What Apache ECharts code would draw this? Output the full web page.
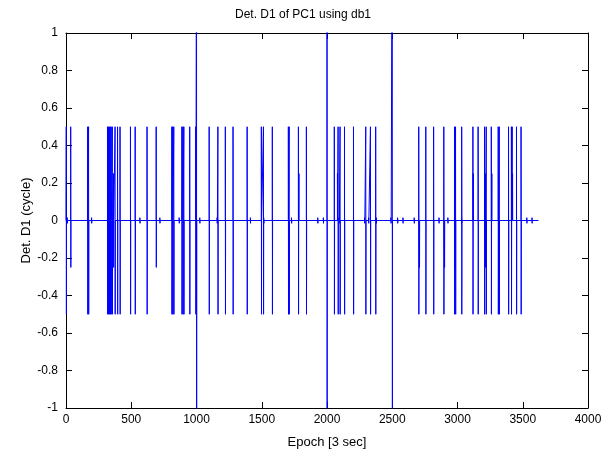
<!DOCTYPE html>
<html>
<head>
<meta charset="utf-8">
<script src="https://cdn.jsdelivr.net/npm/echarts@6/dist/echarts.min.js"></script>
<style>
  html, body { margin: 0; padding: 0; background: #fff; }
  #chart { width: 606px; height: 452px; }
</style>
</head>
<body>
<div id="chart"></div>
<script>
// slips in the D1 detail: epoch, upper peak, lower peak (cycles)
const slipEpochs = [2, 36, 166, 173, 318, 325, 332, 339, 346, 355, 364, 376, 395, 414, 494, 530,
  621, 691, 811, 818, 826, 888, 896, 903, 948, 994, 1000, 1097, 1164, 1221, 1280, 1388, 1497, 1513,
  1581, 1704, 1710, 1781, 1785, 1842, 2000, 2056, 2080, 2085, 2100, 2134, 2203, 2297, 2333, 2373,
  2500, 2703, 2708, 2757, 2817, 2895, 2900, 2977, 2981, 2985, 3032, 3118, 3121, 3158, 3207, 3214,
  3220, 3259, 3263, 3312, 3315, 3320, 3391, 3413, 3419, 3422, 3452, 3487]
const slipHigh = [0.5, 0.5, 0.5, 0.5, 0.5, 0.5, 0.5, 0.5, 0.5, 0.5, 0.25, 0.5, 0.5, 0.5, 0.5, 0.5,
  0.5, 0.5, 0.5, 0.5, 0.5, 0.5, 0.5, 0.5, 0.5, 0.5, 2, 0.5, 0.5, 0.5, 0.5, 0.5, 0.5, 0.5,
  0.5, 0.5, 0.5, 0.5, 0.25, 0.5, 2, 0.5, 0.25, 0.5, 0.5, 0.5, 0.5, 0.5, 0.5, 0.5,
  2, 0.5, 0, 0.5, 0.5, 0.5, 0, 0.5, 0, 0.5, 0.5, 0.5, 0.25, 0.5, 0.5, 0.25,
  0.5, 0.5, 0.25, 0.5, 0.25, 0.5, 0.5, 0.5, 0.5, 0.25, 0.5, 0.5]
const slipLow = [-0.5, -0.25, -0.5, -0.5, -0.5, -0.5, -0.5, -0.5, -0.5, -0.5, -0.25, -0.5, -0.5, -0.5, -0.5, -0.5,
  -0.5, -0.25, -0.5, -0.5, -0.5, -0.5, -0.5, -0.5, -0.5, -0.5, -2, -0.5, -0.5, -0.5, -0.5, -0.5, -0.5, -0.5,
  -0.5, -0.5, -0.5, -0.5, 0, -0.5, -2, -0.5, 0, -0.5, -0.5, -0.5, -0.5, -0.5, -0.5, -0.5,
  -2, -0.5, -0.25, -0.5, -0.5, -0.5, -0.25, -0.5, -0.25, -0.5, -0.5, -0.5, 0, -0.5, -0.5, -0.25,
  -0.5, -0.5, 0, -0.5, -0.25, -0.5, -0.5, -0.5, 0, 0, -0.5, -0.5]

// tiny residuals along the zero line
const noiseEpochs = [10, 196, 566, 719, 867, 1025, 1158, 1413, 1515, 1728, 1929, 1972, 2093, 2288,
  2319, 2378, 2490, 2541, 2582, 2668, 2858, 2926, 3031, 3531, 3571]
const noiseAmp = 0.015

const firstEpoch = 0
const lastEpoch = 3620

const xTicks = [0, 500, 1000, 1500, 2000, 2500, 3000, 3500, 4000]
const yTicks = [-1, -0.8, -0.6, -0.4, -0.2, 0, 0.2, 0.4, 0.6, 0.8, 1]

// build the line as a sequence of [epoch, value] points
const events = []
slipEpochs.forEach((e, i) => events.push({ e, hi: slipHigh[i], lo: slipLow[i] }))
noiseEpochs.forEach((e) => events.push({ e, hi: noiseAmp, lo: -noiseAmp }))
events.sort((a, b) => a.e - b.e)

const lineData = [[firstEpoch, 0]]
events.forEach(({ e, hi, lo }) => {
  lineData.push([e, 0], [e, hi], [e + 1, lo], [e + 2, 0])
})
lineData.push([lastEpoch, 0])

const font = 'Liberation Sans, Arial, sans-serif'
const axisLine = { show: true, onZero: false, lineStyle: { color: '#000', width: 1 } }
const tickIn = { show: true, inside: true, length: 6, lineStyle: { color: '#000' } }

const chart = echarts.init(document.getElementById('chart'))
chart.setOption({
  animation: false,
  backgroundColor: '#fff',
  title: {
    text: 'Det. D1 of PC1 using db1',
    left: 'center',
    top: 4,
    textStyle: { fontFamily: font, fontSize: 12, fontWeight: 'normal', color: '#000' },
  },
  // fixed plot box, no auto shrinking for labels
  grid: { left: 66, right: 18, top: 33, bottom: 44, containLabel: false, outerBoundsMode: 'none' },
  xAxis: [
    {
      type: 'value',
      min: xTicks[0],
      max: xTicks[xTicks.length - 1],
      interval: 500,
      name: 'Epoch [3 sec]',
      nameLocation: 'middle',
      nameGap: 28,
      nameMoveOverlap: false,
      nameTextStyle: { fontFamily: font, fontSize: 13, color: '#000' },
      axisLine,
      axisTick: tickIn,
      axisLabel: { fontFamily: font, fontSize: 12, color: '#000', margin: 6, formatter: (v) => String(v) },
      splitLine: { show: false },
    },
    {
      type: 'value',
      position: 'top',
      min: xTicks[0],
      max: xTicks[xTicks.length - 1],
      interval: 500,
      axisLine,
      axisTick: tickIn,
      axisLabel: { show: false },
      splitLine: { show: false },
    },
  ],
  yAxis: [
    {
      type: 'value',
      min: yTicks[0],
      max: yTicks[yTicks.length - 1],
      interval: 0.2,
      name: 'Det. D1 (cycle)',
      nameLocation: 'middle',
      nameGap: 33,
      nameMoveOverlap: false,
      nameTextStyle: { fontFamily: font, fontSize: 13, color: '#000' },
      axisLine,
      axisTick: tickIn,
      axisLabel: {
        fontFamily: font,
        fontSize: 12,
        color: '#000',
        margin: 8,
        formatter: (v) => String(Math.round(v * 10) / 10),
      },
      splitLine: { show: false },
    },
    {
      type: 'value',
      position: 'right',
      min: yTicks[0],
      max: yTicks[yTicks.length - 1],
      interval: 0.2,
      axisLine,
      axisTick: tickIn,
      axisLabel: { show: false },
      splitLine: { show: false },
    },
  ],
  series: [
    {
      type: 'line',
      data: lineData,
      xAxisIndex: 0,
      yAxisIndex: 0,
      symbol: 'none',
      clip: true,
      lineStyle: { color: '#0000ff', width: 1 },
    },
  ],
})
</script>
</body>
</html>
